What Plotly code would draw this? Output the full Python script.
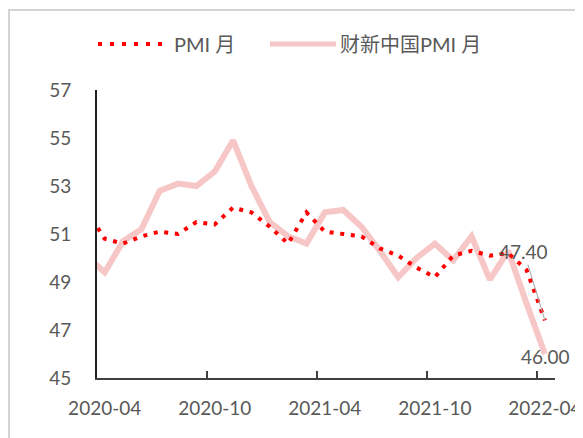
import plotly.graph_objects as go

# monthly readings, 2020-03 .. 2022-04 (first month sits just left of the axis)
months = ['2020-03', '2020-04', '2020-05', '2020-06', '2020-07', '2020-08', '2020-09',
          '2020-10', '2020-11', '2020-12', '2021-01', '2021-02', '2021-03', '2021-04',
          '2021-05', '2021-06', '2021-07', '2021-08', '2021-09', '2021-10', '2021-11',
          '2021-12', '2022-01', '2022-02', '2022-03', '2022-04']
pmi = [52.0, 50.8, 50.6, 50.9, 51.1, 51.0, 51.5, 51.4, 52.1, 51.9, 51.3, 50.6, 51.9,
       51.1, 51.0, 50.9, 50.4, 50.1, 49.6, 49.2, 50.1, 50.3, 50.1, 50.2, 49.5, 47.4]
caixin = [50.1, 49.4, 50.7, 51.2, 52.8, 53.1, 53.0, 53.6, 54.9, 53.0, 51.5, 50.9, 50.6,
          51.9, 52.0, 51.3, 50.3, 49.2, 50.0, 50.6, 49.9, 50.9, 49.1, 50.3, 48.1, 46.0]
tick_labels = ['2020-04', '2020-10', '2021-04', '2021-10', '2022-04']
names = ['PMI 月', '财新中国PMI 月']

FONT = "Lato, 'Noto Sans CJK SC', sans-serif"
TXT = '#595959'
RED = '#FF0000'
PINK = '#F7C6C6'

# page body adds an 8px offset, so the figure is a bit smaller than the window
OFF = 8
W, H = 575, 430
L, R, T, B = 89, 28, 82, 60


def px(x):
    # screen x (window pixels) -> paper fraction
    return (x - OFF - L) / (W - L - R)


def py(y):
    return (H - B - (y - OFF)) / (H - T - B)


xs = list(range(len(months)))
tick_pos = [months.index(m) for m in tick_labels]

fig = go.Figure()
fig.add_trace(go.Scatter(x=xs, y=caixin, mode='lines', name=names[1],
                         line=dict(color=PINK, width=6), showlegend=False))
fig.add_trace(go.Scatter(x=xs, y=pmi, mode='lines', name=names[0],
                         line=dict(color=RED, width=4, dash='4px,6.7px'), showlegend=False))

# end-of-series labels
fig.add_annotation(x=xs[-1], y=pmi[-1], text=f'{pmi[-1]:.2f}', showarrow=True,
                   ax=-21, ay=-69, arrowhead=0, arrowwidth=1, arrowcolor='#A6A6A6',
                   standoff=0, font=dict(family=FONT, size=19, color=TXT))
fig.add_annotation(x=xs[-1], y=caixin[-1], text=f'{caixin[-1]:.2f}', showarrow=False,
                   xshift=1, yshift=-2, font=dict(family=FONT, size=19, color=TXT))

# hand-made legend at the top
fig.add_shape(type='line', xref='paper', yref='paper', x0=px(98), x1=px(162), y0=py(44), y1=py(44),
              line=dict(color=RED, width=4, dash='4px,8px'))
fig.add_annotation(xref='paper', yref='paper', x=px(172), y=py(44), text=names[0],
                   showarrow=False, xanchor='left', yanchor='middle',
                   font=dict(family=FONT, size=20, color=TXT))
fig.add_shape(type='line', xref='paper', yref='paper', x0=px(270), x1=px(336), y0=py(44), y1=py(44),
              line=dict(color=PINK, width=5))
fig.add_annotation(xref='paper', yref='paper', x=px(338), y=py(44), text=names[1],
                   showarrow=False, xanchor='left', yanchor='middle',
                   font=dict(family=FONT, size=20, color=TXT))

# outer frame
fig.add_shape(type='rect', xref='paper', yref='paper', x0=px(9), x1=px(580), y0=py(450), y1=py(10),
              line=dict(color='#D4D4D4', width=2), layer='below')

fig.update_xaxes(range=[0.58, 25.55], tickmode='array', tickvals=tick_pos, ticktext=tick_labels,
                 ticks='', ticklabelstandoff=12, showgrid=False, zeroline=False, automargin=False,
                 showline=True, linecolor='#404040', linewidth=2,
                 minor=dict(tickmode='array', tickvals=[p - 0.45 for p in tick_pos],
                            ticks='inside', ticklen=7, tickwidth=2, tickcolor='#404040', showgrid=False),
                 tickfont=dict(family=FONT, size=19, color=TXT))
fig.update_yaxes(range=[45, 57], tick0=45, dtick=2, ticks='', showgrid=False, zeroline=False,
                 automargin=False, showline=True, linecolor='#202020', linewidth=2,
                 ticklabelstandoff=20, tickfont=dict(family=FONT, size=19, color=TXT))
fig.update_layout(width=W, height=H, margin=dict(l=L, r=R, t=T, b=B),
                  paper_bgcolor='white', plot_bgcolor='white', showlegend=False)

fig.write_html("out.html")
